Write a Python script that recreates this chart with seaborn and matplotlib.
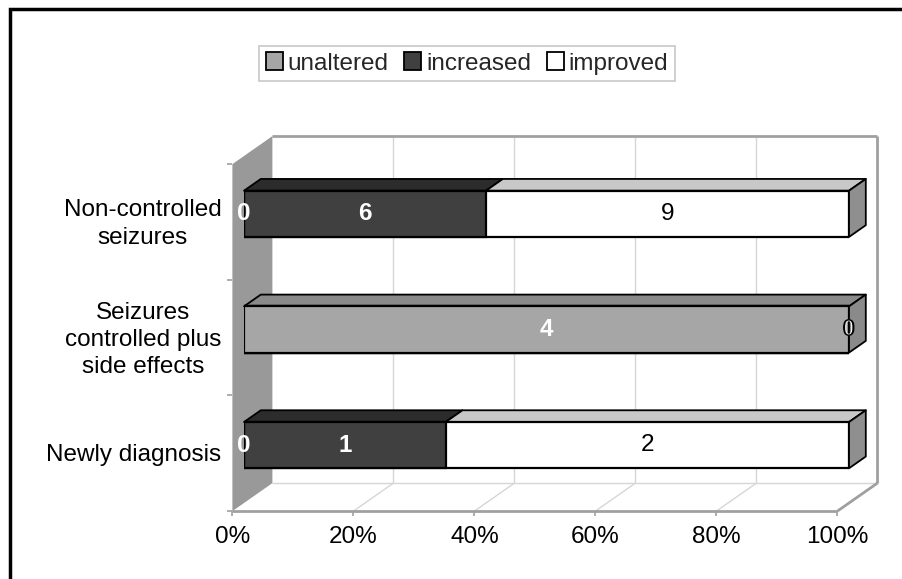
import numpy as np
import pandas as pd
import matplotlib
matplotlib.use('Agg')
import matplotlib.pyplot as plt
import seaborn as sns
from matplotlib.patches import Polygon, Patch, Rectangle

# ---------------- data ----------------
categories = ['Non-controlled\nseizures', 'Seizures\ncontrolled plus\nside effects', 'Newly diagnosis']
series = ['unaltered', 'increased', 'improved']
unaltered = [0, 4, 0]
increased = [6, 0, 1]
improved = [9, 0, 2]
x_ticks = [0, 20, 40, 60, 80, 100]
x_tick_labels = ['0%', '20%', '40%', '60%', '80%', '100%']

# ---------------- style ----------------
front_colors = ['#a6a6a6', '#404040', '#ffffff']
top_colors = ['#8a8a8a', '#2c2c2c', '#c8c8c8']
end_colors = ['#8a8a8a', '#2c2c2c', '#8f8f8f']
label_colors = ['white', 'white', 'black']
label_weights = ['bold', 'bold', 'normal']
FS = 17.5

sns.set_theme(style='white')
plt.rcParams['font.family'] = ['Liberation Sans', 'DejaVu Sans']

W, H = 902, 579
fig = plt.figure(figsize=(W / 100, H / 100), dpi=100)
ax = fig.add_axes([244 / W, 76 / H, 605 / W, 347 / H])

df = pd.DataFrame({'category': categories, 'unaltered': unaltered,
                   'increased': increased, 'improved': improved})
tot = df[series].sum(axis=1)
pct = df[series].div(tot, axis=0) * 100
cum = pct.cumsum(axis=1)
starts = cum - pct

BAR_W = 0.4
for i in reversed(range(3)):
    s = series[i]
    pdf = pd.DataFrame({'category': categories, 'end': cum[s].values})
    sns.barplot(data=pdf, x='end', y='category', orient='h', order=categories,
                color=front_colors[i], saturation=1, edgecolor='black',
                linewidth=1.6, width=BAR_W, errorbar=None, ax=ax, zorder=3)

ax.set_xlim(0, 100)
ax.set_ylim(2.5, -0.5)
ax.axis('off')

# ---------------- pseudo-3D frame ----------------
PXX = 605 / 100.0           # px per x data unit
PXC = 347 / 3.0             # px per category unit
DX = 40 / PXX               # depth offset in x data units
DY = 28 / PXC               # depth offset in category units
Z0, Z1 = 0.29, 0.71


def P(x, c, z):
    return (x + (z - Z0) * DX, c - (z - Z0) * DY)


def poly(pts, **kw):
    p = Polygon(pts, closed=True, clip_on=False, **kw)
    ax.add_patch(p)
    return p


def line(a, b, **kw):
    ax.plot([a[0], b[0]], [a[1], b[1]], clip_on=False, solid_capstyle='butt', **kw)


CT, CB = -0.5, 2.5
# back wall
poly([P(0, CT, 1), P(100, CT, 1), P(100, CB, 1), P(0, CB, 1)], fc='white', ec='none', zorder=0.1)
# floor
poly([P(0, CB, 0), P(100, CB, 0), P(100, CB, 1), P(0, CB, 1)], fc='white', ec='none', zorder=0.1)
# gridlines
for xv in x_ticks[1:-1]:
    line(P(xv, CB, 1), P(xv, CT, 1), color='#d6d6d6', lw=1.0, zorder=0.3)
    line(P(xv, CB, 0), P(xv, CB, 1), color='#d6d6d6', lw=1.0, zorder=0.3)
line(P(0, CB, 1), P(100, CB, 1), color='#d6d6d6', lw=1.0, zorder=0.3)
# back wall border
line(P(0, CT, 1), P(100, CT, 1), color='#a0a0a0', lw=2, zorder=0.4)
line(P(100, CT, 1), P(100, CB, 1), color='#a0a0a0', lw=2, zorder=0.4)
# floor border
line(P(0, CB, 0), P(100, CB, 0), color='#a0a0a0', lw=2, zorder=0.4)
line(P(100, CB, 0), P(100, CB, 1), color='#a0a0a0', lw=2, zorder=0.4)
# side wall
poly([P(0, CT, 0), P(0, CT, 1), P(0, CB, 1), P(0, CB, 0)], fc='#999999', ec='none', zorder=0.5)

# ticks
tick_c = 5 / PXC
tick_x = 5 / PXX
for xv in x_ticks:
    a = P(xv, CB, 0)
    line(a, (a[0], a[1] + tick_c), color='#a0a0a0', lw=1.2, zorder=0.6)
    ax.text(a[0], a[1] + 26 / PXC, x_tick_labels[xv // 20], ha='center', va='center',
            fontsize=FS, color='black', clip_on=False)
for cv in [-0.5, 0.5, 1.5, 2.5]:
    a = P(0, cv, 0)
    line((a[0] - tick_x, a[1]), a, color='#a0a0a0', lw=1.2, zorder=0.6)
for j, cat in enumerate(categories):
    a = P(0, j, 0)
    ax.text(a[0] - 11 / PXX, a[1] + 2 / PXC, cat, ha='right', va='center', multialignment='center',
            fontsize=FS, linespacing=1.3, color='black', clip_on=False)

# bar top and end faces
for j in range(len(categories)):
    last = None
    for i, s in enumerate(series):
        p = pct.loc[j, s]
        if p <= 0:
            continue
        x0 = starts.loc[j, s]
        x1 = x0 + p
        ct = j - BAR_W / 2
        poly([P(x0, ct, Z0), P(x1, ct, Z0), P(x1, ct, Z1), P(x0, ct, Z1)],
             fc=top_colors[i], ec='black', lw=1.3, joinstyle='round', zorder=2.5)
        last = i
    if last is not None:
        ct, cb = j - BAR_W / 2, j + BAR_W / 2
        poly([P(100, ct, Z0), P(100, ct, Z1), P(100, cb, Z1), P(100, cb, Z0)],
             fc=end_colors[last], ec='black', lw=1.3, joinstyle='round', zorder=2.5)

# value labels
vals = df[series]
for j in range(len(categories)):
    for i, s in enumerate(series):
        xc = starts.loc[j, s] + pct.loc[j, s] / 2
        ax.text(xc, j, str(int(vals.loc[j, s])), ha='center', va='center',
                fontsize=FS, color=label_colors[i], fontweight=label_weights[i],
                zorder=6, clip_on=False)

# legend
handles = [Patch(facecolor=front_colors[i], edgecolor='black', linewidth=1.3, label=series[i])
           for i in range(3)]
leg = fig.legend(handles=handles, loc='center', bbox_to_anchor=(467 / W, 1 - 63.5 / H),
                 ncol=3, fontsize=FS, frameon=True, fancybox=False, edgecolor='#c8c8c8',
                 framealpha=1, handlelength=0.7, handleheight=0.7, handletextpad=0.2,
                 columnspacing=0.65, borderpad=0.25, borderaxespad=0)
leg.get_frame().set_linewidth(1.2)

# outer border
fig.patches.append(Rectangle((10 / W, -0.1), 1.2, 1 - 9 / H + 0.1, transform=fig.transFigure,
                             fill=False, ec='black', lw=2.5, zorder=10))

fig.savefig('out.png', dpi=100)
